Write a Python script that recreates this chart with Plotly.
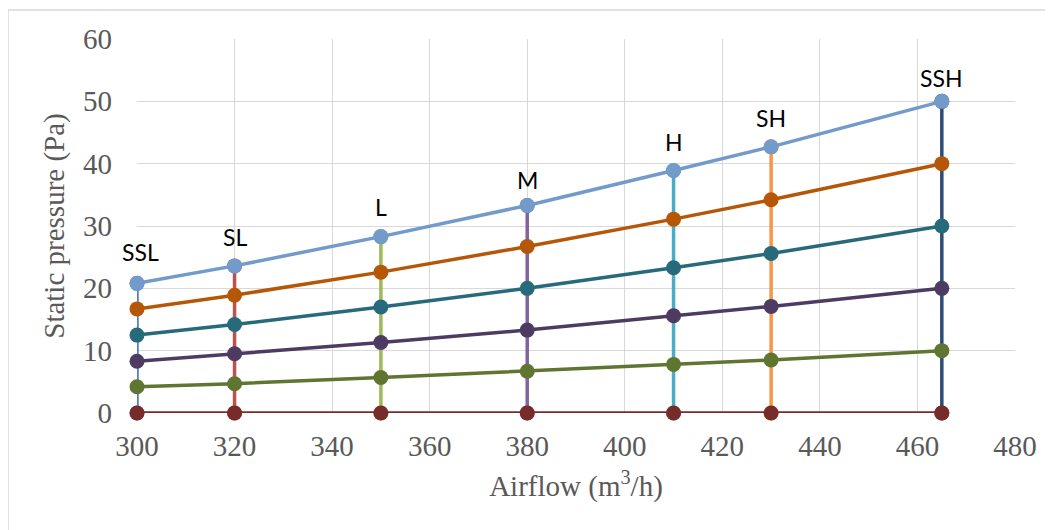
import plotly.graph_objects as go

# ---- data ----
airflow = [300, 320, 350, 380, 410, 430, 465]
modes = ["SSL", "SL", "L", "M", "H", "SH", "SSH"]
p_top = [20.8, 23.6, 28.3, 33.3, 38.9, 42.7, 50.0]
p_80 = [16.7, 18.9, 22.6, 26.7, 31.1, 34.2, 40.0]
p_60 = [12.5, 14.2, 17.0, 20.0, 23.3, 25.6, 30.0]
p_40 = [8.3, 9.5, 11.3, 13.3, 15.6, 17.1, 20.0]
p_20 = [4.2, 4.7, 5.7, 6.7, 7.8, 8.5, 10.0]
p_0 = [0, 0, 0, 0, 0, 0, 0]

x_ticks = [300, 320, 340, 360, 380, 400, 420, 440, 460, 480]
y_ticks = [0, 10, 20, 30, 40, 50, 60]

# ---- styles ----
vert_colors = ["#4F81BD", "#C0504D", "#9BBB59", "#8064A2", "#4BACC6", "#F79646", "#2C4D75"]
horiz = [
    (p_0, "#772C2A"),
    (p_20, "#5F7530"),
    (p_40, "#4D3B62"),
    (p_60, "#276A7C"),
    (p_80, "#B65708"),
    (p_top, "#729ACA"),
]
label_offsets = {"SSL": (3, 31), "SL": (0, 29), "L": (0, 30), "M": (0, 25),
                 "H": (0, 29), "SH": (0, 29), "SSH": (0, 23)}
LW = 3.5
MS = 15

fig = go.Figure()

for xv, top, c in zip(airflow, p_top, vert_colors):
    fig.add_trace(go.Scatter(
        x=[xv, xv], y=[0, top], mode="lines+markers",
        line=dict(color=c, width=LW), marker=dict(color=c, size=MS),
        cliponaxis=False, showlegend=False, hoverinfo="skip"))

for ys, c in horiz:
    fig.add_trace(go.Scatter(
        x=airflow, y=ys, mode="lines+markers",
        line=dict(color=c, width=LW), marker=dict(color=c, size=MS),
        cliponaxis=False, showlegend=False))

for xv, yv, lab in zip(airflow, p_top, modes):
    dx, dy = label_offsets[lab]
    fig.add_annotation(x=xv, y=yv, text=lab, showarrow=False,
                       xshift=dx, yshift=dy,
                       font=dict(family="Lato", size=23, color="#000000"))

serif = "Liberation Serif"
gray = "#595959"

fig.update_xaxes(
    range=[300, 480], tickvals=x_ticks, showgrid=True, gridcolor="#D9D9D9", gridwidth=1,
    zeroline=False, showline=False, ticks="", ticklabelstandoff=13,
    tickfont=dict(family=serif, size=29, color=gray),
    title=dict(text="Airflow (m<sup>3</sup>/h)", font=dict(family=serif, size=29, color=gray), standoff=14),
)
fig.update_yaxes(
    range=[0, 60], tickvals=y_ticks, showgrid=True, gridcolor="#D9D9D9", gridwidth=1,
    zeroline=False, showline=False, ticks="", ticklabelstandoff=24,
    tickfont=dict(family=serif, size=29, color=gray),
    title=dict(text="Static pressure (Pa)", font=dict(family=serif, size=29, color=gray), standoff=9),
)

# outer chart-area border (page body adds an 8px offset)
fig.add_shape(type="rect", xref="paper", yref="paper",
              x0=-129 / 878, x1=1.08, y0=-0.35, y1=1 + 29 / 374,
              line=dict(color="#D9D9D9", width=1.5), layer="below")

fig.update_layout(
    width=1045, height=522,
    margin=dict(l=129, r=38, t=31, b=117),
    plot_bgcolor="white", paper_bgcolor="white",
)

fig.write_html("out.html")
